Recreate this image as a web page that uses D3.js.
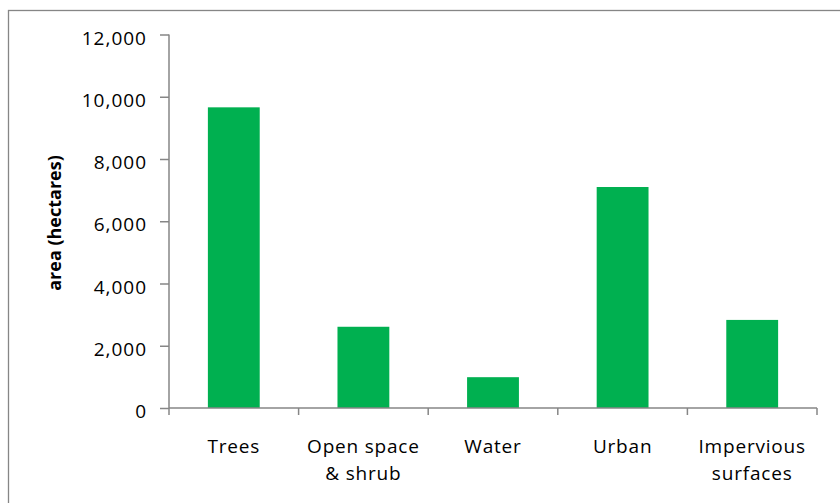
<!DOCTYPE html>
<html>
<head>
<meta charset="utf-8">
<script src="https://cdn.jsdelivr.net/npm/d3@7/dist/d3.min.js"></script>
<style>
  html, body { margin: 0; padding: 0; background: #fff; }
  svg { display: block; font-family: "Open Sans", Lato, sans-serif; }
</style>
</head>
<body>
<svg id="chart" width="840" height="503"></svg>
<script>
// Land-cover areas (hectares)
const categories = [["Trees"], ["Open space", "& shrub"], ["Water"], ["Urban"], ["Impervious", "surfaces"]];
const values = [9660, 2610, 990, 7100, 2830];
const yTicks = [0, 2000, 4000, 6000, 8000, 10000, 12000];
const yTitle = "area (hectares)";

const W = 840, H = 503;
const plot = { left: 169, right: 817, top: 34.5, bottom: 408 };
const axisColor = "#868686";
const barColor = "#00B050";
const font = "'Open Sans', Lato, sans-serif";

const svg = d3.select("#chart");

// chart frame
svg.append("rect")
  .attr("x", 8.5).attr("y", 10.5)
  .attr("width", W + 20).attr("height", H + 20)
  .attr("fill", "none").attr("stroke", axisColor).attr("stroke-width", 1.3);

const keys = categories.map((c, i) => i);
const x = d3.scaleBand().domain(keys).range([plot.left, plot.right]).padding(0);
const y = d3.scaleLinear().domain([0, 12000]).range([plot.bottom, plot.top]);

// bars: 40% of each category slot
const barW = x.bandwidth() * 0.4;
svg.append("g").selectAll("rect")
  .data(values)
  .join("rect")
  .attr("x", (d, i) => x(i) + (x.bandwidth() - barW) / 2)
  .attr("y", d => y(d))
  .attr("width", barW)
  .attr("height", d => y(0) - y(d))
  .attr("fill", barColor);

// y axis
const yAxis = d3.axisLeft(y)
  .tickValues(yTicks)
  .tickSize(9)
  .tickPadding(13)
  .tickFormat(d3.format(","));
const gy = svg.append("g").attr("transform", `translate(${plot.left},0)`).call(yAxis);
gy.select(".domain").attr("stroke", axisColor).attr("stroke-width", 1.5).attr("d", `M0,${plot.top}V${plot.bottom}`);
gy.selectAll(".tick line").attr("stroke", axisColor).attr("stroke-width", 1.5);
gy.selectAll(".tick text")
  .attr("fill", "#000").attr("font-size", 19).attr("dy", "0.5em")
  .attr("letter-spacing", "1px")
  .attr("font-family", font);

// x axis with ticks on category boundaries
const boundaries = d3.range(keys.length + 1).map(i => plot.left + i * x.bandwidth());
const gx = svg.append("g");
gx.append("line")
  .attr("x1", plot.left).attr("x2", plot.right)
  .attr("y1", plot.bottom).attr("y2", plot.bottom)
  .attr("stroke", axisColor).attr("stroke-width", 1.5);
gx.selectAll("line.tk")
  .data(boundaries)
  .join("line").attr("class", "tk")
  .attr("x1", d => d).attr("x2", d => d)
  .attr("y1", plot.bottom).attr("y2", plot.bottom + 7)
  .attr("stroke", axisColor).attr("stroke-width", 1.5);

// category labels
const lbl = gx.selectAll("text.cat")
  .data(categories)
  .join("text").attr("class", "cat")
  .attr("text-anchor", "middle")
  .attr("font-size", 19)
  .attr("letter-spacing", "0.8px")
  .attr("fill", "#000")
  .attr("transform", (d, i) => `translate(${x(i) + x.bandwidth() / 2},453)`);
lbl.selectAll("tspan")
  .data(d => d)
  .join("tspan")
  .attr("x", 0)
  .attr("y", (d, j) => j * 27)
  .text(d => d);

// y axis title
svg.append("text")
  .attr("transform", "translate(61,223) rotate(-90)")
  .attr("text-anchor", "middle")
  .attr("font-size", 18)
  .attr("font-weight", "bold")
  .attr("fill", "#000")
  .text(yTitle);
</script>
</body>
</html>
